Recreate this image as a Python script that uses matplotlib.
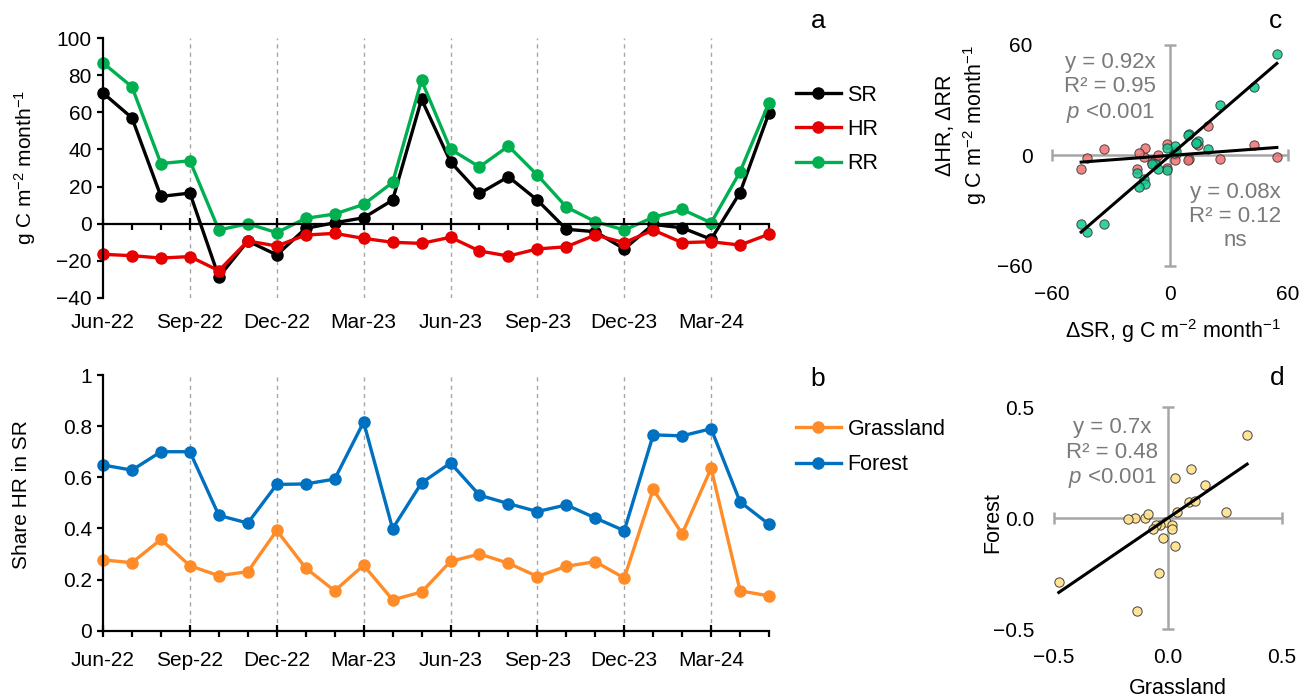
import numpy as np
import pandas as pd
import matplotlib
matplotlib.use('Agg')
import matplotlib.pyplot as plt
from matplotlib.ticker import FixedLocator, NullLocator, MultipleLocator

plt.rcParams['font.family'] = ['Liberation Sans', 'DejaVu Sans']
plt.rcParams['mathtext.fontset'] = 'custom'
plt.rcParams['mathtext.rm'] = 'Liberation Sans'
plt.rcParams['mathtext.it'] = 'Liberation Sans:italic'

# monthly soil fluxes, g C m-2 month-1 (HR shown as negative)
months = pd.date_range('2022-06-01', periods=24, freq='MS')
sr = [70.4, 57.0, 14.7, 16.5, -28.7, -9.3, -16.8, -2.5, 0.5, 3.2, 12.7, 67.0,
      33.3, 16.3, 25.3, 12.7, -3.0, -4.3, -13.6, -0.4, -2.2, -8.4, 16.8, 59.7]
hr = [-16.5, -17.2, -18.5, -17.7, -25.3, -9.3, -12.0, -6.1, -5.2, -7.9, -10.0, -10.6,
      -7.3, -14.7, -17.4, -13.6, -12.4, -6.1, -10.2, -3.4, -10.2, -9.7, -11.5, -5.6]
rr = [86.6, 73.7, 32.4, 33.9, -3.4, 0.0, -4.8, 2.9, 5.2, 10.4, 22.2, 77.2,
      40.1, 30.6, 41.8, 26.2, 9.0, 1.1, -3.4, 3.4, 7.7, 0.5, 28.0, 65.2]

# share of HR in SR
grassland = [0.277, 0.266, 0.357, 0.254, 0.215, 0.231, 0.392, 0.245, 0.156, 0.256, 0.121, 0.151,
             0.271, 0.300, 0.264, 0.212, 0.252, 0.270, 0.206, 0.553, 0.379, 0.635, 0.156, 0.136]
forest = [0.648, 0.628, 0.700, 0.700, 0.451, 0.421, 0.572, 0.574, 0.593, 0.816, 0.399, 0.578,
          0.656, 0.530, 0.497, 0.466, 0.492, 0.441, 0.391, 0.766, 0.762, 0.790, 0.504, 0.416]

# regression slopes (through origin) of month-to-month changes
slope_rr, slope_hr, slope_share = 0.92, 0.08, 0.7

GRAY = '#A6A6A6'
TXT_GRAY = '#7A7A7A'
FS = 15

fig = plt.figure(figsize=(13.09, 6.99), dpi=100)
ax_a = fig.add_axes([0.0787, 0.5737, 0.5088, 0.3719])
ax_b = fig.add_axes([0.0787, 0.0977, 0.5088, 0.3658])
ax_c = fig.add_axes([0.8037, 0.6195, 0.1803, 0.3162])
ax_d = fig.add_axes([0.8052, 0.1001, 0.1742, 0.3176])

x = np.arange(len(months))
quarters = x[::3]
q_labels = [months[i].strftime('%b-%y') for i in quarters]


def time_axis(ax):
    ax.set_xlim(x[0], x[-1])
    for q in quarters[1:]:
        ax.axvline(q, color=GRAY, lw=1, ls=(0, (3, 3)), zorder=0)
    ax.spines[['top', 'right']].set_visible(False)
    ax.spines[['left', 'bottom']].set_linewidth(1.6)
    ax.xaxis.set_major_locator(FixedLocator(quarters))
    ax.xaxis.set_minor_locator(FixedLocator(x))
    ax.tick_params(axis='x', which='major', direction='inout', length=9, width=1.6)
    ax.tick_params(axis='x', which='minor', direction='out', length=4.5, width=1.6)
    ax.tick_params(axis='y', direction='out', length=4.5, width=1.6, labelsize=FS)


line_kw = dict(lw=2.4, marker='o', ms=8, clip_on=False)

# a: fluxes
time_axis(ax_a)
ax_a.plot(x, sr, color='black', label='SR', **line_kw)
ax_a.plot(x, hr, color='#E60000', label='HR', **line_kw)
ax_a.plot(x, rr, color='#00B050', label='RR', **line_kw)
ax_a.set_ylim(-40, 100)
ax_a.yaxis.set_major_locator(MultipleLocator(20))
ax_a.spines['bottom'].set_position(('data', 0))
ax_a.tick_params(axis='x', labelbottom=False)
sec = ax_a.secondary_xaxis(0)
sec.xaxis.set_major_locator(FixedLocator(quarters))
sec.set_xticklabels(q_labels)
sec.xaxis.set_minor_locator(NullLocator())
sec.tick_params(length=0, pad=11, labelsize=FS)
sec.spines['bottom'].set_visible(False)
ax_a.legend(loc='upper left', bbox_to_anchor=(0.608, 0.879), bbox_transform=fig.transFigure,
            frameon=False, fontsize=15.5, handlelength=2.1, handletextpad=0.3,
            labelspacing=0.62, borderpad=0, borderaxespad=0)

# b: share of HR
time_axis(ax_b)
ax_b.plot(x, grassland, color='#FF8C28', label='Grassland', **line_kw)
ax_b.plot(x, forest, color='#0070C0', label='Forest', **line_kw)
ax_b.set_ylim(0, 1)
ax_b.yaxis.set_major_locator(MultipleLocator(0.2))
ax_b.yaxis.set_major_formatter(lambda v, p: f'{v:g}')
ax_b.set_xticks(quarters, q_labels)
ax_b.tick_params(axis='x', which='major', labelsize=FS, pad=10)
ax_b.legend(loc='upper left', bbox_to_anchor=(0.608, 0.401), bbox_transform=fig.transFigure,
            frameon=False, fontsize=15.5, handlelength=2.1, handletextpad=0.3,
            labelspacing=0.68, borderpad=0, borderaxespad=0)


def cross_axes(ax, lim):
    ax.set_xlim(-lim, lim)
    ax.set_ylim(-lim, lim)
    ax.axhline(0, color=GRAY, lw=1.8, zorder=1)
    ax.axvline(0, color=GRAY, lw=1.8, zorder=1)
    ax.plot([-lim, lim], [0, 0], ls='none', marker='|', ms=9, mew=1.8, color=GRAY, clip_on=False)
    ax.plot([0, 0], [-lim, lim], ls='none', marker='_', ms=9, mew=1.8, color=GRAY, clip_on=False)
    for s in ax.spines.values():
        s.set_visible(False)
    ax.set_xticks([-lim, 0, lim])
    ax.set_yticks([-lim, 0, lim])
    ax.tick_params(length=0, labelsize=FS, pad=14)


# c: changes of HR and RR against changes of SR
d_sr, d_hr, d_rr = np.diff(sr), np.diff(hr), np.diff(rr)
cross_axes(ax_c, 60)
ax_c.scatter(d_sr, d_hr, s=45, color='#F07070', edgecolor='#303030', lw=0.7, alpha=0.85, zorder=3)
ax_c.scatter(d_sr, d_rr, s=45, color='#10C890', edgecolor='#303030', lw=0.7, alpha=0.85, zorder=3)
xf = np.array([d_sr.min(), d_sr.max()])
ax_c.plot(xf, slope_rr * xf, color='black', lw=2.2, zorder=4)
ax_c.plot(xf, slope_hr * xf, color='black', lw=2.2, zorder=4)
ax_c.text(-30.5, 36.4, f'y = {slope_rr:g}x\nR² = 0.95\n$p$ <0.001', ha='center', va='center',
          color=TXT_GRAY, fontsize=16)
ax_c.text(33, -33.1, f'y = {slope_hr:g}x\nR² = 0.12\nns', ha='center', va='center',
          color=TXT_GRAY, fontsize=16)

# d: changes of HR share, forest against grassland
d_g, d_f = np.diff(grassland), np.diff(forest)
cross_axes(ax_d, 0.5)
ax_d.xaxis.set_major_formatter(lambda v, p: f'{v:.1f}'.replace('-', '\u2212'))
ax_d.yaxis.set_major_formatter(lambda v, p: f'{v:.1f}'.replace('-', '\u2212'))
ax_d.scatter(d_g, d_f, s=45, color='#FFE08C', edgecolor='#303030', lw=0.7, alpha=0.9, zorder=3)
xg = np.array([d_g.min(), d_g.max()])
ax_d.plot(xg, slope_share * xg, color='black', lw=2.2, zorder=4)
ax_d.text(-0.245, 0.29, f'y = {slope_share:g}x\nR² = 0.48\n$p$ <0.001', ha='center', va='center',
          color=TXT_GRAY, fontsize=16)

# axis titles and panel letters
unit = 'g C m$^{-2}$ month$^{-1}$'
fig.text(25 / 1309, 1 - 168 / 699, unit, rotation=90, ha='center', va='center', fontsize=FS)
fig.text(22 / 1309, 1 - 495 / 699, 'Share HR in SR', rotation=90, ha='center', va='center', fontsize=FS)
fig.text(962 / 1309, 1 - 125 / 699, 'ΔHR, ΔRR\n' + unit, rotation=90, ha='center', va='center',
         multialignment='center', fontsize=15.5)
fig.text(1173 / 1309, 1 - 331 / 699, 'ΔSR, ' + unit, ha='center', va='center', fontsize=15.5)
fig.text(993 / 1309, 1 - 523 / 699, 'Forest', rotation=90, ha='center', va='center', fontsize=15.5)
fig.text(1178 / 1309, 1 - 688 / 699, 'Grassland', ha='center', va='center', fontsize=15.5)

for letter, (px, py) in zip('abcd', [(818, 21), (818, 379), (1275, 21), (1277, 378)]):
    fig.text(px / 1309, 1 - py / 699, letter, ha='center', va='center', fontsize=19)

fig.savefig('out.png', dpi=100)
